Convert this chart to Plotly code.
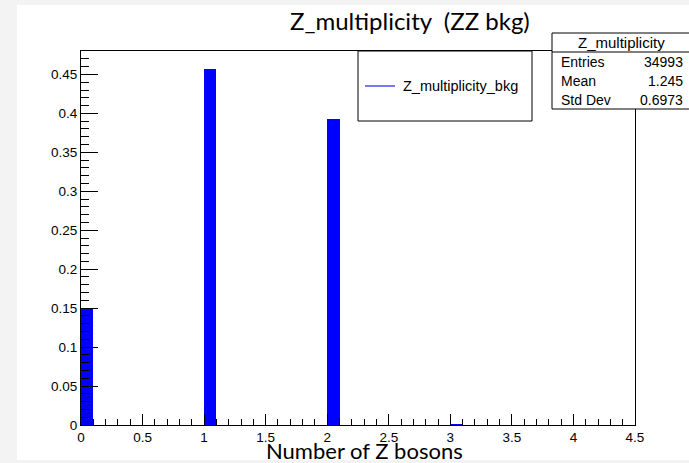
import plotly.graph_objects as go

# ---- data ----
bin_low = [0.0, 1.0, 2.0, 3.0]          # lower edges of non-empty bins
bin_width = 0.1
fraction = [0.1493, 0.4572, 0.3928, 0.0007]
x_ticks = [0, 0.5, 1, 1.5, 2, 2.5, 3, 3.5, 4, 4.5]
y_ticks = [0, 0.05, 0.1, 0.15, 0.2, 0.25, 0.3, 0.35, 0.4, 0.45]
stats_labels = ["Entries", "Mean", "Std Dev"]
stats_values = ["34993", "1.245", "0.6973"]
title_text = "Z_multiplicity\u00a0\u00a0(ZZ bkg)"
x_title = "Number of Z bosons"
legend_name = "Z_multiplicity_bkg"
hist_name = "Z_multiplicity"

W, H = 689, 463
L, R, T, B = 81, 635, 51, 425


def px(x):
    return (x - L) / (R - L)


def py(y):
    return (B - y) / (B - T)


centers = [b + bin_width / 2 for b in bin_low]

fig = go.Figure()
fig.add_trace(go.Bar(x=centers, y=fraction, width=bin_width,
                     marker=dict(color="#0000ff", line=dict(width=0)),
                     name=legend_name, showlegend=False, hoverinfo="skip"))

shapes = [
    # white canvas over grey page
    dict(type="rect", xref="paper", yref="paper", x0=px(17), x1=px(700),
         y0=py(460), y1=py(5), fillcolor="white", line=dict(width=0), layer="below"),
    # legend box
    dict(type="rect", xref="paper", yref="paper", x0=px(358), x1=px(532),
         y0=py(121), y1=py(51), fillcolor="white", line=dict(color="black", width=1)),
    dict(type="line", xref="paper", yref="paper", x0=px(365), x1=px(395),
         y0=py(86), y1=py(86), line=dict(color="#4848ff", width=1.5)),
    # stats box
    dict(type="rect", xref="paper", yref="paper", x0=px(552), x1=px(694),
         y0=py(109), y1=py(33), fillcolor="white", line=dict(color="black", width=1)),
    dict(type="line", xref="paper", yref="paper", x0=px(552), x1=px(694),
         y0=py(52), y1=py(52), line=dict(color="black", width=1)),
]

ann = [
    dict(text=title_text, xref="paper", yref="paper", x=px(410), y=py(21),
         showarrow=False, xanchor="center", yanchor="middle",
         font=dict(family="Lato", size=24, color="black")),
    dict(text=x_title, xref="paper", yref="paper", x=px(364), y=py(450),
         showarrow=False, xanchor="center", yanchor="middle",
         font=dict(family="Lato", size=22, color="black")),
    dict(text=legend_name, xref="paper", yref="paper", x=px(401), y=py(86),
         showarrow=False, xanchor="left", yanchor="middle",
         font=dict(family="Liberation Sans", size=14.5, color="black")),
    dict(text=hist_name, xref="paper", yref="paper", x=px(621), y=py(43),
         showarrow=False, xanchor="center", yanchor="middle",
         font=dict(family="Liberation Sans", size=15, color="black")),
]
row_y = [62, 81, 100]
for lab, val, yy in zip(stats_labels, stats_values, row_y):
    ann.append(dict(text=lab, xref="paper", yref="paper", x=px(559), y=py(yy),
                    showarrow=False, xanchor="left", yanchor="middle",
                    font=dict(family="Liberation Sans", size=14, color="black")))
    ann.append(dict(text=val, xref="paper", yref="paper", x=px(685), y=py(yy),
                    showarrow=False, xanchor="right", yanchor="middle",
                    font=dict(family="Liberation Sans", size=14, color="black")))

ymax = 1.05 * max(fraction)
tickfont = dict(family="Liberation Sans", size=13.5, color="black")

fig.update_layout(
    width=W, height=H,
    margin=dict(l=L, r=W - R, t=T, b=H - B, pad=0),
    paper_bgcolor="#f3f3f3",
    plot_bgcolor="white",
    showlegend=False,
    bargap=0,
    hovermode=False,
    shapes=shapes,
    annotations=ann,
    xaxis=dict(range=[0, 4.5], tickvals=x_ticks, ticktext=[f"{v:g}" for v in x_ticks],
               ticks="inside", ticklen=11, tickwidth=1, tickcolor="black",
               minor=dict(ticks="inside", ticklen=6, dtick=0.1, tick0=0, tickcolor="black", tickwidth=1),
               showline=True, mirror=True, linecolor="black", linewidth=1,
               showgrid=False, zeroline=False, tickfont=tickfont),
    yaxis=dict(range=[0, ymax], tickvals=y_ticks, ticktext=[f"{v:g}" for v in y_ticks],
               ticks="inside", ticklen=17, tickwidth=1, tickcolor="black",
               minor=dict(ticks="inside", ticklen=8, dtick=0.01, tick0=0, tickcolor="black", tickwidth=1),
               showline=True, mirror=True, linecolor="black", linewidth=1,
               showgrid=False, zeroline=False, tickfont=tickfont),
)

fig.write_html("out.html", config={"displayModeBar": False},
               post_script="document.body.style.margin='0';document.body.style.overflow='hidden';")
